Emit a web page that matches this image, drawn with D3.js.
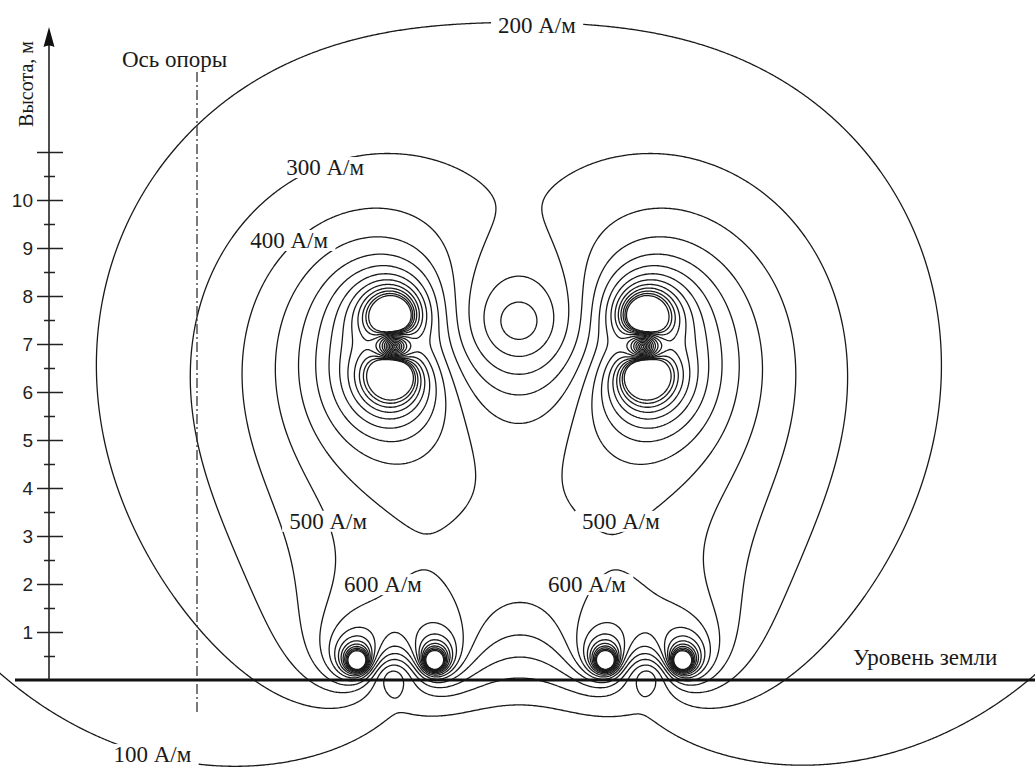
<!DOCTYPE html>
<html>
<head>
<meta charset="utf-8">
<script src="https://cdn.jsdelivr.net/npm/d3@7"></script>
<style>
  body { margin: 0; background: #fff; }
  svg { display: block; }
</style>
</head>
<body>
<svg id="chart" width="1035" height="769"></svg>
<script>
// conductors: x from the pole axis (m), height above ground (m), current (A)
var condX = [4.08, 4.08, 9.33, 9.33, 3.35, 4.94, 8.52, 10.1];
var condY = [7.54, 6.42, 7.54, 6.42, 0.38, 0.38, 0.38, 0.38];
var condI = [3318, 3318, 3318, 3318, -1600, -1600, -1600, -1600];

// field levels, A/m
var levels = [100, 200, 300, 400, 500, 600, 700, 800, 900, 1000, 1100, 1200, 1300, 1400];

// height axis
var majorTicks = [1, 2, 3, 4, 5, 6, 7, 8, 9, 10, 11];
var majorLabels = ["1", "2", "3", "4", "5", "6", "7", "8", "9", "10", ""];
var minorTicks = [0.5, 1.5, 2.5, 3.5, 4.5, 5.5, 6.5, 7.5, 8.5, 9.5, 10.5];

// level captions
var labelText = ["200 А/м", "300 А/м", "400 А/м", "500 А/м", "500 А/м", "600 А/м", "600 А/м", "100 А/м"];
var labelX = [7.08, 2.67, 1.92, 2.73, 8.83, 3.875, 8.125, -0.93];
var labelY = [13.48, 10.52, 9.0, 3.15, 3.15, 1.83, 1.83, -1.71];

var svgWidth = 1035;
var svgHeight = 769;
var serif = "'Liberation Serif', 'Times New Roman', serif";

var svg = d3.select("#chart");

// 48 px per metre on both axes, ground at y = 680, pole axis at x = 197
var xScale = d3.scaleLinear().domain([0, 10]).range([197, 677]);
var yScale = d3.scaleLinear().domain([0, 10]).range([680, 200]);

// field magnitude of the line currents
function field(x, y) {
    var hx = 0, hy = 0;
    for (var k = 0; k < condI.length; k++) {
        var dx = x - condX[k], dy = y - condY[k];
        var r2 = dx * dx + dy * dy + 1e-9;
        var c = condI[k] / (2 * Math.PI * r2);
        hx += -dy * c;
        hy += dx * c;
    }
    return Math.sqrt(hx * hx + hy * hy);
}

// sample grid a bit larger than the picture so border runs stay hidden
var step = 1.5;
var gx0 = -8, gy0 = -8;
var nx = Math.ceil((svgWidth + 16) / step);
var ny = Math.ceil((svgHeight + 16) / step);
var values = new Float64Array(nx * ny);
for (var j = 0; j < ny; j++) {
    var ym = yScale.invert(gy0 + j * step);
    for (var i = 0; i < nx; i++) {
        var xm = xScale.invert(gx0 + i * step);
        values[j * nx + i] = Math.min(field(xm, ym), 1600);
    }
}

var contours = d3.contours()
    .size([nx, ny])
    .thresholds(levels)(values);

var toPixels = d3.geoTransform({
    point: function(x, y) {
        this.stream.point(gx0 + (x - 0.5) * step, gy0 + (y - 0.5) * step);
    }
});
var path = d3.geoPath(toPixels);

svg.append("g")
    .selectAll("path")
    .data(contours)
    .join("path")
    .attr("d", path)
    .attr("fill", "none")
    .attr("stroke", "#1a1a1a")
    .attr("stroke-width", 1.3)
    .attr("stroke-linejoin", "round");

// level captions on a white patch that breaks the lines
var labelGroup = svg.append("g");
labelText.forEach(function(t, i) {
    var g = labelGroup.append("g");
    var txt = g.append("text")
        .attr("x", xScale(labelX[i]))
        .attr("y", yScale(labelY[i]))
        .attr("text-anchor", "middle")
        .style("font-family", serif)
        .style("font-size", "23px")
        .attr("fill", "#1a1a1a")
        .text(t);
    var bb = txt.node().getBBox();
    g.insert("rect", "text")
        .attr("x", bb.x - 7)
        .attr("y", bb.y + 2)
        .attr("width", bb.width + 14)
        .attr("height", bb.height - 4)
        .attr("fill", "#fff");
});

// pole axis
svg.append("line")
    .attr("x1", xScale(0)).attr("x2", xScale(0))
    .attr("y1", 72).attr("y2", 712)
    .attr("stroke", "#333")
    .attr("stroke-width", 1.3)
    .attr("stroke-dasharray", "10,3,2,3");

svg.append("text")
    .attr("x", 122).attr("y", 67)
    .style("font-family", serif)
    .style("font-size", "23px")
    .attr("fill", "#1a1a1a")
    .text("Ось опоры");

// ground
svg.append("line")
    .attr("x1", 15).attr("x2", svgWidth)
    .attr("y1", yScale(0)).attr("y2", yScale(0))
    .attr("stroke", "#111")
    .attr("stroke-width", 3);

svg.append("text")
    .attr("x", 853).attr("y", 665)
    .style("font-family", serif)
    .style("font-size", "23px")
    .attr("fill", "#1a1a1a")
    .text("Уровень земли");

// height axis, ticks cross the line
var axisX = 49;
var leftAxis = d3.axisLeft(yScale)
    .tickValues(majorTicks)
    .tickSize(12)
    .tickPadding(4)
    .tickFormat(function(d, i) { return majorLabels[i]; });
var rightAxis = d3.axisRight(yScale)
    .tickValues(majorTicks)
    .tickSize(14)
    .tickFormat("");
var minorLeft = d3.axisLeft(yScale).tickValues(minorTicks).tickSize(5).tickFormat("");
var minorRight = d3.axisRight(yScale).tickValues(minorTicks).tickSize(6).tickFormat("");

[leftAxis, rightAxis, minorLeft, minorRight].forEach(function(ax) {
    var g = svg.append("g")
        .attr("transform", `translate(${axisX}, 0)`)
        .call(ax);
    g.select(".domain").remove();
    g.selectAll(".tick line").attr("stroke", "#222").attr("stroke-width", 1.5);
    g.selectAll(".tick text")
        .style("font-family", "'Liberation Sans', Arial, sans-serif")
        .style("font-size", "19px")
        .attr("fill", "#222");
});

svg.append("line")
    .attr("x1", axisX).attr("x2", axisX)
    .attr("y1", yScale(0)).attr("y2", 40)
    .attr("stroke", "#222")
    .attr("stroke-width", 1.6);

svg.append("path")
    .attr("d", `M${axisX},27 L${axisX - 5.5},47 Q${axisX},44 ${axisX + 5.5},47 Z`)
    .attr("fill", "#111");

svg.append("text")
    .attr("transform", `translate(33, 84) rotate(-90)`)
    .attr("text-anchor", "middle")
    .style("font-family", serif)
    .style("font-size", "20px")
    .attr("fill", "#1a1a1a")
    .text("Высота, м");
</script>
</body>
</html>
